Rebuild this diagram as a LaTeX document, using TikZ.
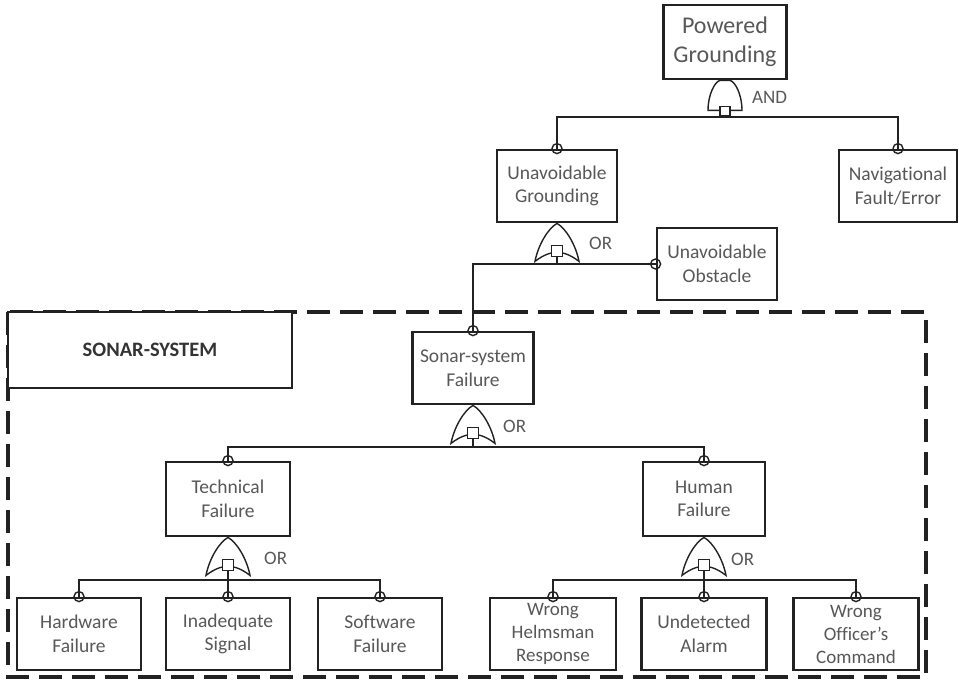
\documentclass[tikz,border=0pt]{standalone}
\usepackage{fontspec}
\setmainfont{Carlito}[Ligatures={ResetAll,NoCommon}]
\usepackage{tikz}
\usetikzlibrary{calc,positioning}

\definecolor{txtgray}{HTML}{585858}
\definecolor{linegray}{HTML}{222222}

\tikzset{
	event/.style={draw=linegray,line width=2.8pt,fill=white,align=center,inner sep=0pt,
		minimum width=122pt,minimum height=72pt,text=txtgray,
		font=\fontsize{19.5}{23.5}\selectfont},
	gate/.style={draw=linegray,line width=1.4pt,fill=white},
	wire/.style={draw=linegray,line width=2.6pt},
	joint/.style={draw=linegray,line width=1.4pt},
	gatelabel/.style={text=txtgray,font=\fontsize{19}{20}\selectfont,anchor=west,inner sep=0pt},
	dashbox/.style={draw=linegray,line width=3.4pt,dash pattern=on 23pt off 10pt},
	orgate/.pic={
		\path[gate] (0,0) .. controls (9,5) and (19,22) .. (22,38)
			.. controls (13,31) and (6,29) .. (0,29)
			.. controls (-6,29) and (-13,31) .. (-22,38)
			.. controls (-19,22) and (-9,5) .. cycle;
		\path[gate] (-5.5,22) rectangle (5.5,33);
		\coordinate (-out) at (0,33);
	},
	andgate/.pic={
		\path[gate] (-17,30) .. controls (-17,14) and (-10,1) .. (-5,0) -- (5,0)
			.. controls (10,1) and (17,14) .. (17,30) -- cycle;
		\path[gate] (-5,26) rectangle (5,35);
		\coordinate (-out) at (0,35);
	}
}

\begin{document}
\begin{tikzpicture}[x=1pt,y=-1pt]
	\useasboundingbox (0,0) rectangle (959,680);
	
	% subsystem frame
	\draw[dashbox] (8,312) rectangle (926,677);
	\node[draw=linegray,line width=2.8pt,fill=white,minimum width=284pt,minimum height=76pt,
		font=\fontsize{20.5}{24}\selectfont\bfseries,text=black!80] (sonar) at (150,350) {SONAR-SYSTEM};
	
	% events
	\node[event,minimum width=123pt,minimum height=74pt,font=\fontsize{24}{29}\selectfont] (pg) at (725,42) {Powered\\Grounding};
	\node[event,minimum width=120pt] (ug) at (557,186) {Unavoidable\\Grounding};
	\node[event,minimum width=118pt] (nav) at (898,186) {Navigational\\Fault/Error};
	\node[event,minimum width=120pt] (uo) at (717,264) {Unavoidable\\Obstacle};
	\node[event,minimum width=121pt] (ssf) at (473,368) {Sonar-system\\Failure};
	\node[event,minimum width=124pt,minimum height=74pt] (tf) at (228,499) {Technical\\Failure};
	\node[event,minimum height=74pt] (hf) at (704,499) {Human\\Failure};
	\node[event,minimum width=124pt] (hw) at (79,634) {Hardware\\Failure};
	\node[event,minimum width=124pt] (is) at (228,634) {Inadequate\\Signal};
	\node[event,minimum width=124pt] (sw) at (380,634) {Software\\Failure};
	\node[event,minimum width=126pt,font=\fontsize{19}{23}\selectfont] (wh) at (553,634) {Wrong\\Helmsman\\Response};
	\node[event,minimum width=125pt] (ua) at (704,634) {Undetected\\Alarm};
	\node[event,minimum width=125pt,font=\fontsize{19}{23}\selectfont] (wo) at (856,634) {Wrong\\Officer's\\Command};
	
	% gates
	\pic (gpg) at (pg.south) {andgate};
	\pic (gug) at (ug.south) {orgate};
	\pic (gssf) at (ssf.south) {orgate};
	\pic (gtf) at (tf.south) {orgate};
	\pic (ghf) at (hf.south) {orgate};
	\node[gatelabel] (lpg) at (752,97) {AND};
	\node[gatelabel] (lug) at (589,243) {OR};
	\node[gatelabel] (lssf) at (503,426) {OR};
	\node[gatelabel] (ltf) at (264,558) {OR};
	\node[gatelabel] (lhf) at (731,559) {OR};
	
	% connections
	\coordinate (bus1) at (pg.south |- 0,117);
	\coordinate (bus2) at (ug.south |- 0,264);
	\coordinate (bus3) at (ssf.south |- 0,447);
	\coordinate (bus4) at (tf.south |- 0,580);
	\coordinate (bus5) at (hf.south |- 0,580);
	\draw[wire] (gpg-out) -- (bus1);
	\draw[wire] (ug.north) |- (bus1) -| (nav.north);
	\draw[wire] (gug-out) -- (bus2);
	\draw[wire] (ssf.north) |- (bus2) -- (uo.west);
	\draw[wire] (gssf-out) -- (bus3);
	\draw[wire] (tf.north) |- (bus3) -| (hf.north);
	\draw[wire] (gtf-out) -- (is.north);
	\draw[wire] (hw.north) |- (bus4) -| (sw.north);
	\draw[wire] (ghf-out) -- (ua.north);
	\draw[wire] (wh.north) |- (bus5) -| (wo.north);
	
	% joints
	\foreach \n in {ug,nav,ssf,tf,hf,hw,is,sw,wh,ua,wo}
		\draw[joint] (\n.north) circle (5);
	\draw[joint] (uo.west) circle (5);
\end{tikzpicture}
\end{document}
